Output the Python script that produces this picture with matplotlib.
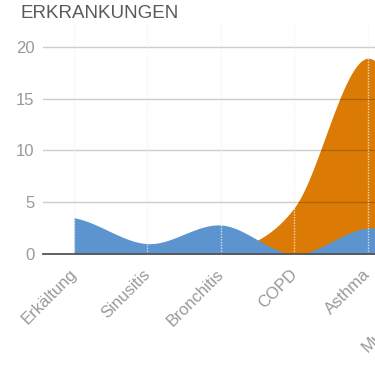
import matplotlib
matplotlib.use('Agg')
import matplotlib.pyplot as plt
import numpy as np

# data
categories = ['Erkältung', 'Sinusitis', 'Bronchitis', 'COPD', 'Asthma', 'Mukoviszidose']
blue_vals = [3.5, 1.0, 2.8, 0.0, 2.5, 1.0]
orange_vals = [0.0, 0.0, 0.0, 4.5, 18.9, 5.0]
yticks = [0, 5, 10, 15, 20]

blue = '#5b94cf'
orange = '#db7b05'

plt.rcParams['font.family'] = ['Liberation Sans', 'DejaVu Sans']


# smooth curve through the points (catmull-rom), drawing only
def smooth(vals, n=40):
    p = np.asarray(vals, dtype=float)
    xs, ys = [], []
    for i in range(len(p) - 1):
        p0 = p[i - 1] if i > 0 else p[i]
        p3 = p[i + 2] if i + 2 < len(p) else p[i + 1]
        m0 = (p[i + 1] - p0) / 2.0
        m1 = (p3 - p[i]) / 2.0
        t = np.linspace(0, 1, n, endpoint=(i == len(p) - 2))
        h00 = 2 * t**3 - 3 * t**2 + 1
        h10 = t**3 - 2 * t**2 + t
        h01 = -2 * t**3 + 3 * t**2
        h11 = t**3 - t**2
        xs.append(i + t)
        ys.append(h00 * p[i] + h10 * m0 + h01 * p[i + 1] + h11 * m1)
    return np.concatenate(xs), np.concatenate(ys)


fig = plt.figure(figsize=(3.75, 3.66), dpi=100)
ax = fig.add_axes([43 / 375, 112 / 366, (472 - 43) / 375, 229 / 366])

x, y = smooth(orange_vals)
ax.fill_between(x, 0, y, color=orange, lw=0, zorder=1)
x, y = smooth(blue_vals)
ax.fill_between(x, 0, y, color=blue, lw=0, zorder=2)

for v in yticks[1:]:
    ax.axhline(v, color='black', alpha=0.2, lw=1, zorder=3)
for i in range(len(categories)):
    ax.axvline(i, color='#f0f0f0', lw=1, ls=(0, (1, 1)), alpha=0.8, zorder=4)

ax.set_xlim(-31 / 73.5, 5.415)
ax.set_ylim(0, 22.1)
ax.set_yticks(yticks)
ax.set_yticklabels([str(v) for v in yticks])
ax.set_xticks(range(len(categories)))
ax.set_xticklabels(categories, rotation=45, ha='right', va='center',
                   rotation_mode='anchor')
ax.tick_params(axis='both', length=0, colors='#999999', labelsize=12)
ax.tick_params(axis='y', pad=6)
ax.tick_params(axis='x', pad=13)

for s in ['top', 'right', 'left']:
    ax.spines[s].set_visible(False)
ax.spines['bottom'].set_color('#555555')
ax.spines['bottom'].set_linewidth(1.3)
ax.spines['bottom'].set_zorder(5)

fig.text(20 / 375, 1 - 13 / 366, 'ERKRANKUNGEN', fontsize=13.5, color='#5a5a5a',
         va='center', ha='left')

fig.savefig('out.png')
